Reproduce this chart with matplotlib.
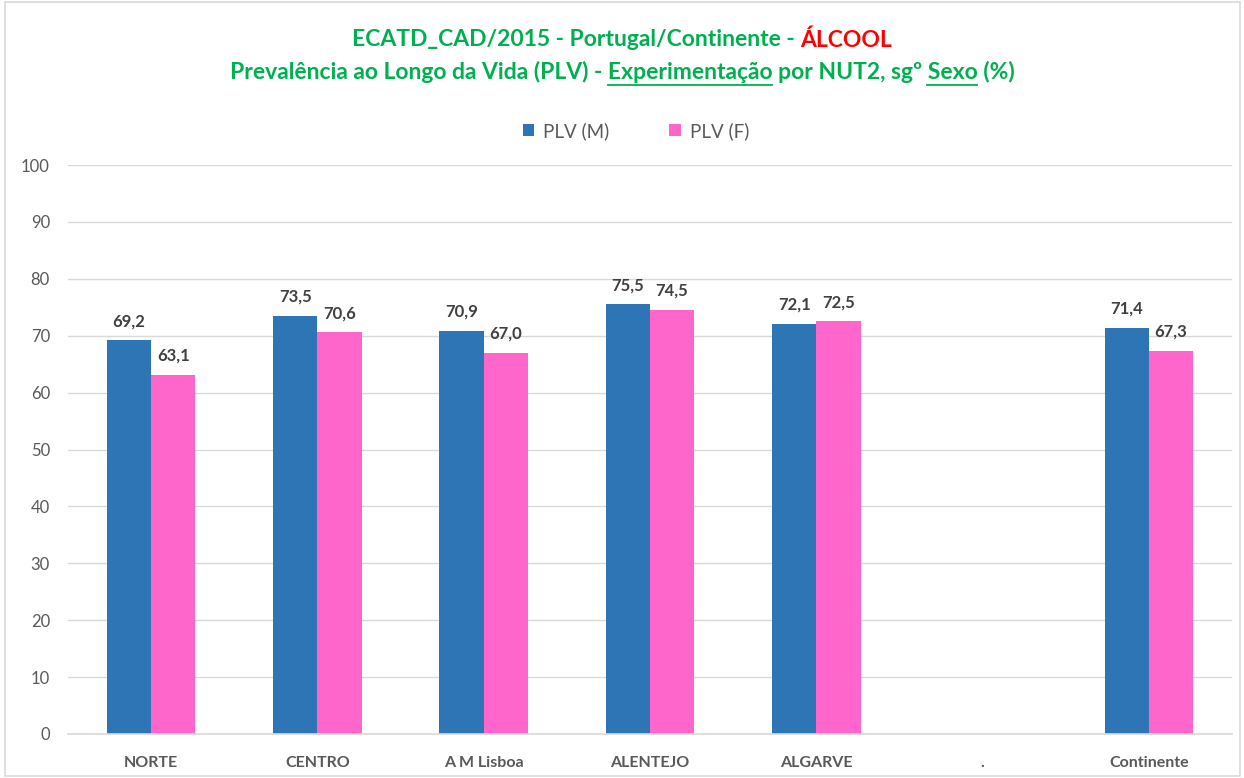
import matplotlib
matplotlib.use("Agg")
import matplotlib.pyplot as plt
from matplotlib.patches import Rectangle
import numpy as np

categories = ["NORTE", "CENTRO", "A M Lisboa", "ALENTEJO", "ALGARVE", ".", "Continente"]
plv_m = [69.2, 73.5, 70.9, 75.5, 72.1, np.nan, 71.4]
plv_f = [63.1, 70.6, 67.0, 74.5, 72.5, np.nan, 67.3]
series_names = ["PLV (M)", "PLV (F)"]
y_ticks = [0, 10, 20, 30, 40, 50, 60, 70, 80, 90, 100]

BLUE = "#2E75B6"
PINK = "#FF66CC"
GREEN = "#00B050"
RED = "#FF0000"
FONT = "Lato"

plt.rcParams["font.family"] = [FONT, "DejaVu Sans"]

W, H = 1244, 778
fig = plt.figure(figsize=(W / 100, H / 100), dpi=100)
fig.patches.append(Rectangle((0.004, 0.002), 0.993, 0.995, transform=fig.transFigure,
                             fill=False, edgecolor="#D9D9D9", linewidth=1.2))

ax = fig.add_axes([68 / W, 1 - 734 / H, (1232 - 68) / W, (734 - 165) / H])
x = np.arange(len(categories))
bw = 0.266
b1 = ax.bar(x - bw / 2, plv_m, bw, color=BLUE, label=series_names[0])
b2 = ax.bar(x + bw / 2, plv_f, bw, color=PINK, label=series_names[1])

for bars, vals in ((b1, plv_m), (b2, plv_f)):
    for rect, v in zip(bars, vals):
        if np.isnan(v):
            continue
        ax.annotate(f"{v:.1f}".replace(".", ","),
                    (rect.get_x() + rect.get_width() / 2, v),
                    xytext=(0, 8), textcoords="offset points",
                    ha="center", va="bottom", fontsize=12, fontweight="bold",
                    color="#404040")

ax.set_xlim(-0.5, len(categories) - 0.5)
ax.set_ylim(0, 100)
ax.set_yticks(y_ticks)
ax.set_yticklabels([str(t) for t in y_ticks], fontsize=12, color="#595959")
ax.set_xticks(x)
ax.set_xticklabels(categories, fontsize=11.5, fontweight="bold", color="#595959")
ax.tick_params(axis="both", length=0)
ax.tick_params(axis="y", pad=13)
ax.tick_params(axis="x", pad=16)
ax.grid(axis="y", color="#D9D9D9", linewidth=1)
ax.set_axisbelow(True)
for s in ["top", "right", "left"]:
    ax.spines[s].set_visible(False)
ax.spines["bottom"].set_color("#D9D9D9")
ax.spines["bottom"].set_linewidth(1.2)

ax.legend(loc="center", bbox_to_anchor=(636 / W, 1 - 131 / H), bbox_transform=fig.transFigure,
          ncol=2, frameon=False, fontsize=13.5, labelcolor="#595959",
          handlelength=0.6, handleheight=0.6, columnspacing=3.2, handletextpad=0.5)

# title with coloured and underlined pieces
renderer = fig.canvas.get_renderer()
tkw = dict(fontsize=16.5, fontweight="bold")


def width(s):
    t = fig.text(0, 0, s, **tkw)
    bb = t.get_window_extent(renderer)
    t.remove()
    return bb.width


line1_a = "ECATD_CAD/2015 - Portugal/Continente - "
line1_b = "ÁLCOOL"
y1 = 1 - 40 / H
full = width(line1_a + line1_b)
x0 = W / 2 - full / 2
fig.text(x0 / W, y1, line1_a, color=GREEN, va="center", ha="left", **tkw)
xb = x0 + full - width(line1_b)
fig.text(xb / W, y1, line1_b, color=RED, va="center", ha="left", **tkw)

line2 = "Prevalência ao Longo da Vida (PLV) - Experimentação por NUT2, sgº Sexo (%)"
y2 = 1 - 72 / H
full2 = width(line2)
x0 = W / 2 - full2 / 2
fig.text(x0 / W, y2, line2, color=GREEN, va="center", ha="left", **tkw)
for prefix, word in (("Prevalência ao Longo da Vida (PLV) - ", "Experimentação"),
                     ("Prevalência ao Longo da Vida (PLV) - Experimentação por NUT2, sgº ", "Sexo")):
    end = x0 + width(prefix + word)
    start = end - width(word)
    uy = 1 - 85 / H
    fig.add_artist(plt.Line2D([start / W, end / W], [uy, uy], transform=fig.transFigure,
                              color=GREEN, linewidth=1.3))

fig.savefig("out.png", dpi=100)
